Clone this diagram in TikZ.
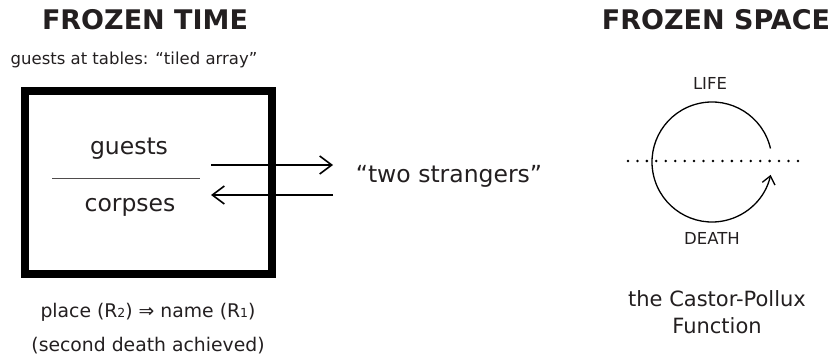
\documentclass[tikz,border=0pt]{standalone}
\usepackage{fontspec}
\setmainfont{DejaVu Sans}
\usetikzlibrary{arrows.meta}
\definecolor{ink}{RGB}{35,31,32}
\newcommand{\lowdigit}[1]{{\fontsize{12.5}{12.5}\selectfont #1}}
\begin{document}
\begin{tikzpicture}[x=1pt,y=1pt,
  txt/.style={text=ink, inner sep=0pt, anchor=base},
  heading/.style={txt, font=\fontsize{27}{30}\selectfont\bfseries},
  small/.style={txt, font=\fontsize{16.5}{20}\selectfont},
  note/.style={txt, font=\fontsize{18.8}{22}\selectfont},
  big/.style={txt, font=\fontsize{23.5}{28}\selectfont},
  label/.style={txt, font=\fontsize{21}{25}\selectfont},
  swap/.style={line width=1.6pt, -{Straight Barb[length=12pt,width=18pt]}}]
\useasboundingbox (0,0) rectangle (834,356);
\node[heading] (time) at (145,326) {FROZEN TIME};
\node[heading] (space) at (716,326) {FROZEN SPACE};
\node[small] (tables) at (134,291) {guests at tables: “tiled array”};
\node[draw, line width=8pt, minimum width=247.5pt, minimum height=183pt, inner sep=0pt] (frame) at (148.25,173.5) {};
\node[big] (guests) at (129,201) {guests};
\node[big] (corpses) at (130,144) {corpses};
\coordinate (barl) at (52,177);
\coordinate (barr) at (200,177);
\draw[ink!80, line width=1pt] (barl) -- (barr);
\node[big] (strangers) at (449,173) {“two strangers”};
\coordinate (outa) at (211,191);
\coordinate (outb) at (333,191);
\coordinate (ina) at (333,161);
\coordinate (inb) at (211,161);
\draw[swap] (outa) -- (outb);
\draw[swap] (ina) -- (inb);
\node[note] (rule) at (148,39) {place (R\lowdigit{2}) ⇒ name (R\lowdigit{1})};
\node[note] (death2) at (148,4.3) {(second death achieved)};
\coordinate (cp) at (712,194);
\coordinate (dl) at (628,195);
\coordinate (dr) at (798,195);
\draw[line width=2.8pt, line cap=round, dash pattern=on 0pt off 9.44pt] (dl) -- (dr);
\draw[line width=1.3pt, -{Straight Barb[length=8pt,width=13pt]}] (cp) ++(13:60) arc[start angle=13, end angle=347.6, radius=60];
\node[small] (life) at (710,266) {LIFE};
\node[small] (death) at (712,111) {DEATH};
\node[label] (castor) at (717,49.3) {the Castor-Pollux};
\node[label] (function) at (717,23) {Function};
\end{tikzpicture}
\end{document}
